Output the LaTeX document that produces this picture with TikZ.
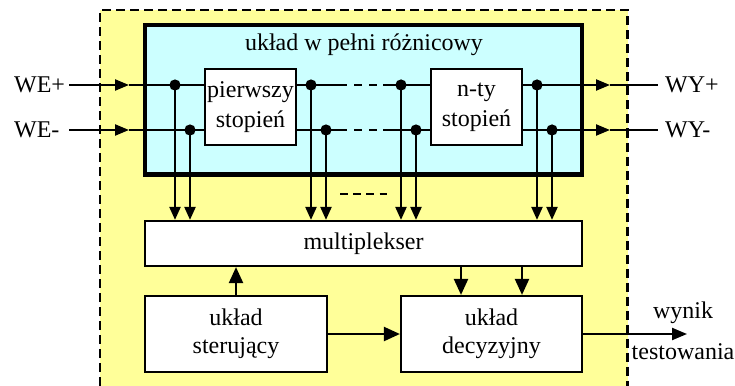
\documentclass[tikz,border=0pt]{standalone}
\usepackage{fontspec}
\setmainfont{Liberation Serif}
\usetikzlibrary{arrows.meta}
\definecolor{padyellow}{HTML}{FFFF99}
\definecolor{circcyan}{HTML}{CCFFFF}
\begin{document}
\begin{tikzpicture}[x=1pt,y=-1pt,line width=2.2pt,
  txt/.style={font=\fontsize{24}{28}\selectfont,inner sep=0pt},
  block/.style={draw,fill=white,line width=2.2pt,align=center,txt},
  stage/.style={block,font=\fontsize{24}{30}\selectfont,minimum width=91pt,minimum height=76pt},
  tipS/.style={-{Triangle[length=14pt,width=11pt]}},
  tipD/.style={-{Triangle[length=13pt,width=11pt]}},
  tipL/.style={-{Triangle[length=16pt,width=14pt]}},
  tipO/.style={-{Triangle[length=15pt,width=12pt]}},
  wdash/.style={dash pattern=on 8pt off 7pt},
]
\useasboundingbox (0,0) rectangle (735,385);
\clip (0,0) rectangle (735,385);

% test environment (yellow area with dashed border)
\fill[padyellow] (100,10) rectangle (627.5,400);
\draw[line width=2.8pt,dash pattern=on 9pt off 5pt] (100,400) -- (100,10) -- (627.5,10) -- (627.5,400);

% fully differential circuit
\draw[line width=4.2pt,fill=circcyan] (145,25) rectangle (582,174.5);
\node[txt,anchor=base] (title) at (364,51) {układ w pełni różnicowy};

\node[stage] (st1) at (250.5,107) {pierwszy\\stopień};
\node[stage] (stn) at (476.5,107) {n-ty\\stopień};

\node[block,minimum width=437pt,minimum height=45pt] (mux) at (363.5,243.5) {multiplekser};
\node[block,align=center,minimum width=182pt,minimum height=76pt] (ster) at (236,334) {układ\\sterujący};
\node[block,align=center,minimum width=181pt,minimum height=76pt] (dec) at (491.5,334) {układ\\decyzyjny};

% terminals
\node[txt,anchor=west] (weP) at (13,85) {WE+};
\node[txt,anchor=west] (weN) at (13,130) {WE-};
\node[txt,anchor=west] (wyP) at (664,85) {WY+};
\node[txt,anchor=west] (wyN) at (664,130) {WY-};
\node[txt,anchor=base] (wyn) at (683,318) {wynik};
\node[txt,anchor=base] (tst) at (683,359) {testowania};

% wire points
\coordinate (inP) at (69,85);   \coordinate (inN) at (69,130);
\coordinate (aP) at (129,85);   \coordinate (aN) at (129,130);
\coordinate (j1) at (175,85);   \coordinate (j2) at (190,130);
\coordinate (j3) at (311,85);   \coordinate (j4) at (326,130);
\coordinate (j5) at (401,85);   \coordinate (j6) at (416,130);
\coordinate (j7) at (537,85);   \coordinate (j8) at (552,130);
\coordinate (gP1) at (347,85);  \coordinate (gP2) at (383,85);
\coordinate (gN1) at (347,130); \coordinate (gN2) at (383,130);
\coordinate (dP1) at (354,85);  \coordinate (dP2) at (377,85);
\coordinate (dN1) at (354,130); \coordinate (dN2) at (377,130);
\coordinate (oP) at (610,85);   \coordinate (oN) at (610,130);
\coordinate (eP) at (658,85);   \coordinate (eN) at (658,130);
\coordinate (mA) at (461,266);  \coordinate (mB) at (522,266);
\coordinate (res) at (687,334);
\coordinate (gd1) at (340,194); \coordinate (gd2) at (388,194);

% input wires
\draw[tipS] (inP) -- (aP);
\draw (aP) -- (j1) -- (st1.west |- j1);
\draw[tipS] (inN) -- (aN);
\draw (aN) -- (j2) -- (st1.west |- j2);

% between stages
\draw (st1.east |- j3) -- (j3) -- (gP1);
\draw (st1.east |- j4) -- (j4) -- (gN1);
\draw[wdash] (dP1) -- (dP2);
\draw[wdash] (dN1) -- (dN2);
\draw (gP2) -- (j5) -- (stn.west |- j5);
\draw (gN2) -- (j6) -- (stn.west |- j6);

% output wires
\draw (stn.east |- j7) -- (j7);
\draw[tipS] (j7) -- (oP);
\draw (oP) -- (eP);
\draw (stn.east |- j8) -- (j8);
\draw[tipS] (j8) -- (oN);
\draw (oN) -- (eN);

% taps to the multiplexer
\foreach \j in {j1,j2,j3,j4,j5,j6,j7,j8}
  \draw[tipD] (\j) -- (\j |- mux.north);
\draw[dash pattern=on 7.5pt off 5.7pt] (gd1) -- (gd2);

% junction dots
\foreach \j in {j1,j2,j3,j4,j5,j6,j7,j8}
  \fill (\j) circle (5.6pt);

% control and decision paths
\draw[tipL] (ster.north) -- (ster.north |- mux.south);
\draw[tipL] (ster.east) -- (dec.west);
\draw[tipL] (mA) -- (mA |- dec.north);
\draw[tipL] (mB) -- (mB |- dec.north);
\draw[tipO] (dec.east) -- (res);
\end{tikzpicture}
\end{document}
